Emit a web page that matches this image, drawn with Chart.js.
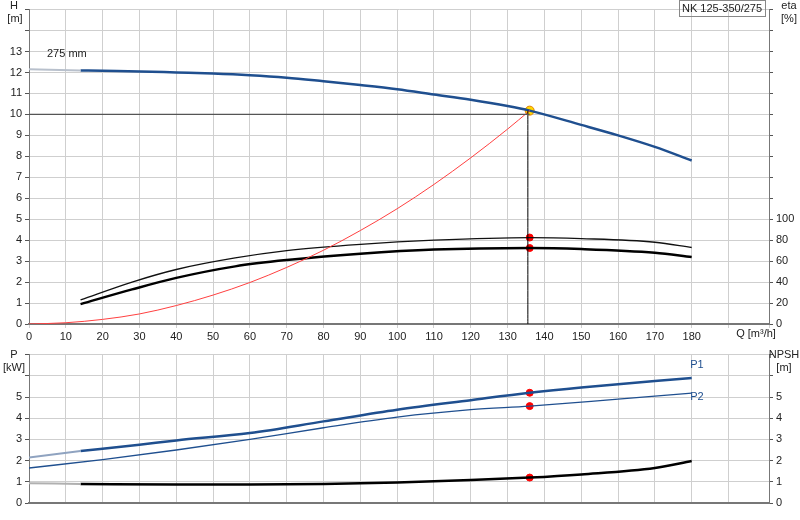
<!DOCTYPE html>
<html><head><meta charset="utf-8">
<script src="https://cdn.jsdelivr.net/npm/chart.js@4"></script>
<style>
  body { margin: 0; background: #fff; }
  #top, #bot { position: absolute; left: 0; }
  #top { top: 0; } #bot { top: 345px; }
</style></head>
<body>
<div id="top" style="width:800px;height:345px"><canvas id="cTop"></canvas></div>
<div id="bot" style="width:800px;height:175px"><canvas id="cBot"></canvas></div>
<script>
// ---- data ----
const qHead = [14, 20, 30, 40, 50, 60, 70, 80, 90, 100, 110, 120, 130, 136, 150, 160, 170, 180];
const head  = [12.1, 12.08, 12.05, 12.0, 11.95, 11.87, 11.75, 11.58, 11.4, 11.2, 10.95, 10.7, 10.4, 10.18, 9.5, 9.0, 8.45, 7.8];
const qHeadExt = [0, 14];
const headExt  = [12.15, 12.1];

const qEta = [14, 28, 40, 56, 70, 90, 110, 136, 150, 170, 180];
const etaUpper = [23, 40, 52, 63, 70, 76, 80, 82.5, 81.5, 78, 73];
const etaLower = [19, 33, 44, 55, 61, 67, 71, 72.5, 71.5, 68, 64];

const qSys = [0, 10, 20, 30, 40, 50, 60, 70, 80, 90, 100, 110, 120, 130, 136];
const hSys = [0, 0.06, 0.22, 0.48, 0.88, 1.38, 1.98, 2.7, 3.52, 4.46, 5.5, 6.66, 7.93, 9.3, 10.18];

const qDuty = 136, hDuty = 10.18, hDutyLine = 10, etaDuty = [82.5, 72.5];

const qPow = [14, 30, 40, 60, 80, 100, 120, 136, 150, 180];
const p1   = [2.45, 2.75, 2.95, 3.3, 3.85, 4.4, 4.85, 5.2, 5.45, 5.9];
const qPowExt = [0, 14];
const p1Ext = [2.15, 2.45];
const qP2 = [0, 20, 40, 60, 80, 100, 120, 136, 160, 180];
const p2  = [1.65, 2.05, 2.5, 3.0, 3.55, 4.05, 4.4, 4.57, 4.9, 5.18];
const qNpsh = [14, 40, 60, 80, 100, 120, 136, 150, 170, 180];
const npsh  = [0.9, 0.87, 0.87, 0.9, 0.97, 1.08, 1.2, 1.35, 1.65, 1.98];
const npshExt = [0.93, 0.9];
const dutyPow = [5.2, 4.57, 1.2];

const BLUE = '#1f4f8f', GRID = '#cfcfcf', AX = '#777', TXT = '#222';
const xy = (xs, ys) => xs.map((x, i) => ({ x, y: ys[i] }));
const font = { family: 'Arial, "Liberation Sans", sans-serif', size: 11 };
Chart.defaults.font = font;
Chart.defaults.color = TXT;

function xScale(showLabels) {
  return {
    type: 'linear', min: 0, max: 201,
    ticks: { stepSize: 10, display: showLabels, padding: 2, maxRotation: 0,
             callback: v => v <= 180 ? v : '' },
    grid: { color: GRID, tickLength: showLabels ? 4 : 0 },
    border: { color: AX, width: 2 },
    afterFit: s => { s.height = showLabels ? 21 : 17; }
  };
}
function yScale(max, pos, lastLabel, step, grid, w) {
  return {
    type: 'linear', position: pos, min: 0, max,
    ticks: { stepSize: step, padding: 3, callback: v => v <= lastLabel ? v : '' },
    grid: { display: true, drawOnChartArea: grid, color: GRID, tickLength: 4, tickColor: '#555' },
    border: { color: AX },
    afterFit: s => { s.width = w; }
  };
}
const base = { pointRadius: 0, fill: false, cubicInterpolationMode: 'monotone' };

const textPlugin = (items) => ({
  id: 'txt',
  afterDraw(c) {
    const ctx = c.ctx; ctx.save();
    ctx.font = '11px Arial, "Liberation Sans", sans-serif';
    items.forEach(t => {
      ctx.fillStyle = t.color || TXT; ctx.textAlign = t.align || 'center';
      ctx.textBaseline = 'middle'; ctx.fillText(t.s, t.x, t.y);
    });
    if (c.canvas.id === 'cTop') {
      ctx.strokeStyle = '#888'; ctx.lineWidth = 1;
      ctx.strokeRect(679.5, 0.5, 86, 16);
      ctx.fillStyle = TXT; ctx.textAlign = 'center'; ctx.fillText('NK 125-350/275', 722, 9);
    }
    ctx.restore();
  }
});

new Chart(document.getElementById('cTop'), {
  type: 'line',
  data: { datasets: [
    { ...base, data: [{ x: 0, y: hDutyLine }, { x: qDuty, y: hDutyLine }], borderColor: '#555', borderWidth: 1.2, yAxisID: 'y' },
    { ...base, data: [{ x: qDuty - 0.5, y: hDuty }, { x: qDuty - 0.5, y: 0 }], borderColor: '#000', borderWidth: 1, yAxisID: 'y' },
    { ...base, data: xy(qSys, hSys), borderColor: '#ff4040', borderWidth: 1, yAxisID: 'y' },
    { ...base, data: xy(qHeadExt, headExt), borderColor: '#b8c0cc', borderWidth: 2, yAxisID: 'y' },
    { ...base, data: xy(qHead, head), borderColor: BLUE, borderWidth: 2.5, yAxisID: 'y' },
    { ...base, data: xy(qEta, etaUpper), borderColor: '#111', borderWidth: 1.3, yAxisID: 'eta' },
    { ...base, data: xy(qEta, etaLower), borderColor: '#000', borderWidth: 2.5, yAxisID: 'eta' },
    { data: [{ x: qDuty, y: hDuty }], showLine: false, pointRadius: 4.5, pointBackgroundColor: '#ffd700', pointBorderColor: '#e08000', pointBorderWidth: 1, yAxisID: 'y' },
    { data: etaDuty.map(y => ({ x: qDuty, y })), showLine: false, pointRadius: 3.5, pointBackgroundColor: '#ff0000', pointBorderColor: '#ff0000', yAxisID: 'eta' }
  ]},
  options: {
    responsive: true, maintainAspectRatio: false, animation: false,
    layout: { padding: { top: -6, right: 0, left: 0, bottom: 0 } },
    plugins: { legend: { display: false }, tooltip: { enabled: false } },
    scales: { x: xScale(true), y: yScale(15, 'left', 13, 1, true, 29), eta: yScale(300, 'right', 100, 20, false, 31) }
  },
  plugins: [textPlugin([
    { s: 'H', x: 14, y: 6 }, { s: '[m]', x: 15, y: 19 },
    { s: 'eta', x: 789, y: 6 }, { s: '[%]', x: 789, y: 19 },
    { s: '275 mm', x: 47, y: 54, align: 'left' },
    { s: 'Q [m³/h]', x: 756, y: 334 }
  ])]
});

new Chart(document.getElementById('cBot'), {
  type: 'line',
  data: { datasets: [
    { ...base, data: xy(qPowExt, p1Ext), borderColor: '#8fa3c0', borderWidth: 2, yAxisID: 'y' },
    { ...base, data: xy(qPow, p1), borderColor: BLUE, borderWidth: 2.5, yAxisID: 'y' },
    { ...base, data: xy(qP2, p2), borderColor: BLUE, borderWidth: 1.3, yAxisID: 'y' },
    { ...base, data: xy(qPowExt, npshExt), borderColor: '#b0b0b0', borderWidth: 2, yAxisID: 'npsh' },
    { ...base, data: xy(qNpsh, npsh), borderColor: '#000', borderWidth: 2.5, yAxisID: 'npsh' },
    { data: dutyPow.map(y => ({ x: qDuty, y })), showLine: false, pointRadius: 3.5, pointBackgroundColor: '#ff0000', pointBorderColor: '#ff0000', yAxisID: 'y' }
  ]},
  options: {
    responsive: true, maintainAspectRatio: false, animation: false,
    layout: { padding: { top: 4, right: 0, left: 0, bottom: 0 } },
    plugins: { legend: { display: false }, tooltip: { enabled: false } },
    scales: { x: xScale(false), y: yScale(7, 'left', 5, 1, true, 29), npsh: yScale(7, 'right', 5, 1, false, 31) }
  },
  plugins: [textPlugin([
    { s: 'P', x: 14, y: 10 }, { s: '[kW]', x: 14, y: 23 },
    { s: 'NPSH', x: 784, y: 10 }, { s: '[m]', x: 784, y: 23 },
    { s: 'P1', x: 697, y: 20, color: BLUE }, { s: 'P2', x: 697, y: 52, color: BLUE }
  ])]
});
</script>
</body></html>
